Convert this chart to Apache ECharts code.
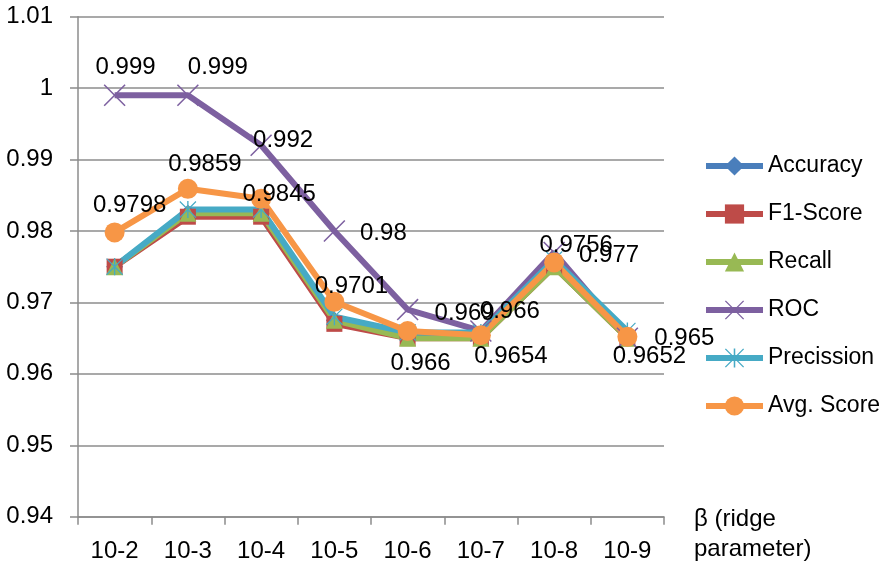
<!DOCTYPE html>
<html>
<head>
<meta charset="utf-8">
<script src="https://cdn.jsdelivr.net/npm/echarts@6/dist/echarts.min.js"></script>
<style>
  html, body { margin: 0; padding: 0; background: #fff; }
  #chart { width: 879px; height: 562px; }
</style>
</head>
<body>
<div id="chart"></div>
<script>
// Ridge parameter sweep: classification scores per β value
const categories = ['10-2', '10-3', '10-4', '10-5', '10-6', '10-7', '10-8', '10-9'];

const accuracy  = [0.975, 0.9825, 0.9825, 0.9675, 0.9652, 0.9652, 0.9755, 0.9652];
const f1Score   = [0.975, 0.982, 0.982, 0.967, 0.965, 0.965, 0.975, 0.965];
const recall    = [0.975, 0.9825, 0.9825, 0.9675, 0.965, 0.965, 0.975, 0.965];
const roc       = [0.999, 0.999, 0.992, 0.98, 0.969, 0.966, 0.977, 0.965];
const precision = [0.975, 0.983, 0.983, 0.968, 0.9658, 0.9658, 0.976, 0.966];
const avgScore  = [0.9798, 0.9859, 0.9845, 0.9701, 0.966, 0.9654, 0.9756, 0.9652];

// label nudges (px) for the value labels of ROC and Avg. Score
const rocLabelOffsets = [[11, -28], [30, -28], [22, -5], [49, 2], [57, 4], [29, -20], [55, 3], [57, 0]];
const avgLabelOffsets = [[15, -27], [17, -24], [18, -4], [17, -15], [13, 32], [30, 21], [22, -17], [22, 20]];

const FONT = 'Liberation Sans, Arial, sans-serif';
const GRID_COLOR = '#8c8c8c';

// thin-stroke marker shapes
const X_MARK = 'path://M0,1L1,0L20,19L19,20Z M19,0L20,1L1,20L0,19Z';
const STAR_MARK = 'path://M0,1L1,0L20,19L19,20Z M19,0L20,1L1,20L0,19Z M9.2,0L10.8,0L10.8,20L9.2,20Z';

function labelled(values, offsets) {
  return values.map((v, i) => ({
    value: v,
    label: { show: true, position: 'inside', offset: offsets[i] }
  }));
}

function lineSeries(name, data, color, symbol, size, withLabels) {
  return {
    name: name,
    type: 'line',
    data: data,
    symbol: symbol,
    symbolSize: size,
    showAllSymbol: true,
    lineStyle: { width: 6, color: color },
    itemStyle: { color: color, borderWidth: 0 },
    label: {
      show: withLabels,
      color: '#000',
      fontSize: 24,
      fontFamily: FONT,
      formatter: p => String(p.value)
    },
    emphasis: { disabled: true },
    animation: false
  };
}

const chart = echarts.init(document.getElementById('chart'), null, { renderer: 'canvas' });

chart.setOption({
  backgroundColor: '#fff',
  animation: false,
  grid: {
    left: 78, right: 215, top: 16.7, bottom: 45.3,
    containLabel: false,
    outerBoundsMode: 'none'
  },
  legend: {
    orient: 'vertical',
    left: 703,
    top: 154,
    padding: 0,
    itemWidth: 57,
    itemHeight: 24,
    itemGap: 24,
    lineStyle: { width: 6 },
    textStyle: { fontSize: 23, color: '#000', fontFamily: FONT, lineHeight: 24 },
    data: ['Accuracy', 'F1-Score', 'Recall', 'ROC', 'Precission', 'Avg. Score']
  },
  xAxis: {
    type: 'category',
    data: categories,
    boundaryGap: true,
    // first rich token is an empty spacer that pushes the two name lines below the axis
    name: '{s| }\n{t|β (ridge}\n{t|parameter)}',
    nameLocation: 'end',
    nameGap: 30,
    nameTextStyle: {
      fontSize: 24, color: '#000', fontFamily: FONT,
      align: 'left', verticalAlign: 'middle',
      rich: {
        s: { fontSize: 24, lineHeight: 36, height: 36 },
        t: { fontSize: 24, color: '#000', fontFamily: FONT, lineHeight: 30 }
      }
    },
    axisLine: { lineStyle: { color: GRID_COLOR, width: 1.5 } },
    axisTick: { show: true, length: 8, alignWithLabel: false, lineStyle: { color: GRID_COLOR, width: 1.5 } },
    axisLabel: { fontSize: 24, color: '#000', fontFamily: FONT, margin: 23 },
    splitLine: { show: false }
  },
  yAxis: {
    type: 'value',
    min: 0.94,
    max: 1.01,
    interval: 0.01,
    axisLine: { show: true, lineStyle: { color: GRID_COLOR, width: 1.5 } },
    axisTick: { show: true, length: 8, lineStyle: { color: GRID_COLOR, width: 1.5 } },
    axisLabel: {
      fontSize: 24, color: '#000', fontFamily: FONT, margin: 25,
      formatter: v => String(+v.toFixed(2))
    },
    splitLine: { show: true, lineStyle: { color: GRID_COLOR, width: 1.5 } }
  },
  series: [
    lineSeries('Accuracy', accuracy, '#4A7EBB', 'diamond', 17, false),
    lineSeries('F1-Score', f1Score, '#BE4B48', 'rect', 16, false),
    lineSeries('Recall', recall, '#98B954', 'triangle', 17, false),
    lineSeries('ROC', labelled(roc, rocLabelOffsets), '#7D60A0', X_MARK, 22, true),
    lineSeries('Precission', precision, '#46AAC5', STAR_MARK, 17, false),
    lineSeries('Avg. Score', labelled(avgScore, avgLabelOffsets), '#F79646', 'circle', 20, true)
  ]
});
</script>
</body>
</html>
